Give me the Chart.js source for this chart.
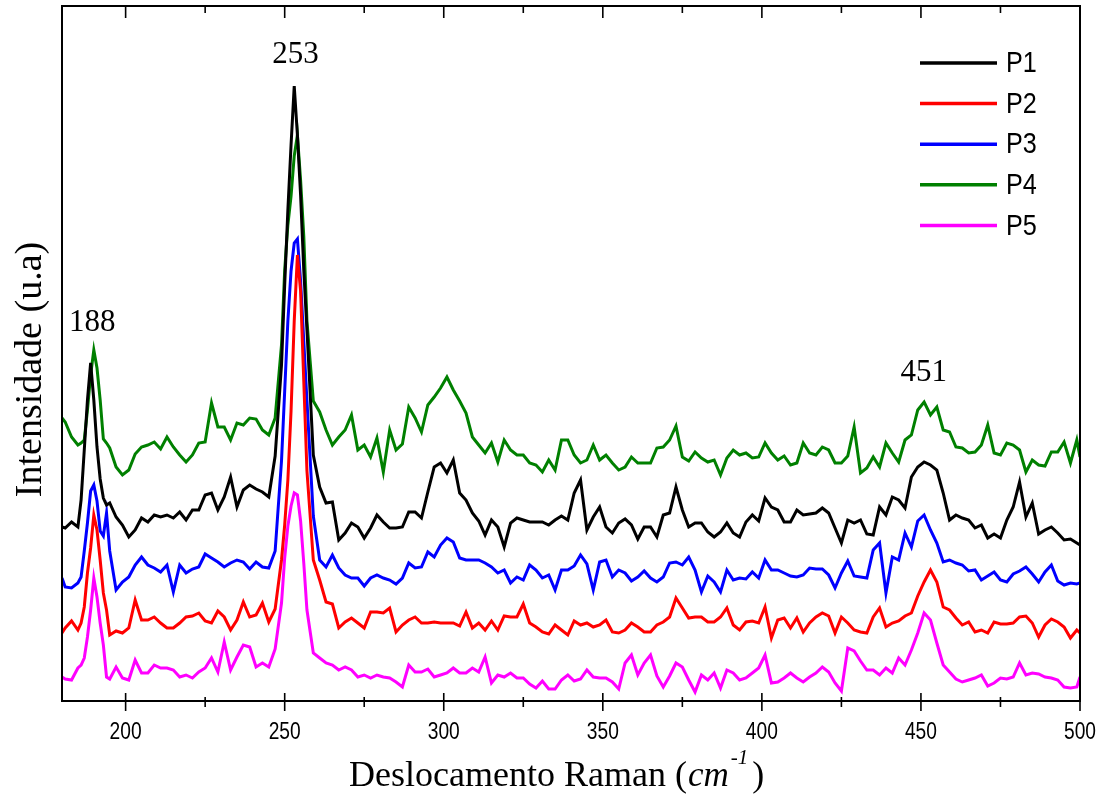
<!DOCTYPE html>
<html>
<head>
<meta charset="utf-8">
<title>Deslocamento Raman</title>
<script src="https://cdn.jsdelivr.net/npm/chart.js@4.4.1/dist/chart.umd.min.js"></script>
<style>
    html, body { margin: 0; padding: 0; background: #ffffff; }
    #wrap { width: 1112px; height: 805px; }
</style>
</head>
<body>
<div id="wrap"><canvas id="ramanChart" width="1112" height="805"></canvas></div>
<script>
/*==============================================================
    DATA
==============================================================*/
const seriesNames = ["P1", "P2", "P3", "P4", "P5"];
const seriesColors = ["#000000", "#ff0000", "#0000ff", "#008000", "#ff00ff"];

// Raman shift (cm-1)
const shifts = [
    180, 181, 183, 185, 186, 187, 188, 189, 190, 191,
    192, 193, 194, 195, 197, 199, 201, 203, 205, 207,
    209, 211, 213, 215, 217, 219, 221, 223, 225, 227,
    229, 231, 233, 235, 237, 239, 241, 243, 245, 247,
    249, 250, 251, 252, 253, 254, 255, 256, 257, 259,
    261, 263, 265, 267, 269, 271, 273, 275, 277, 279,
    281, 283, 285, 287, 289, 291, 293, 295, 297, 299,
    301, 303, 305, 307, 309, 311, 313, 315, 317, 319,
    321, 323, 325, 327, 329, 331, 333, 335, 337, 339,
    341, 343, 345, 347, 349, 351, 353, 355, 357, 359,
    361, 363, 365, 367, 369, 371, 373, 375, 377, 379,
    381, 383, 385, 387, 389, 391, 393, 395, 397, 399,
    401, 403, 405, 407, 409, 411, 413, 415, 417, 419,
    421, 423, 425, 427, 429, 431, 433, 435, 437, 439,
    441, 443, 445, 447, 449, 451, 453, 455, 457, 459,
    461, 463, 465, 467, 469, 471, 473, 475, 477, 479,
    481, 483, 485, 487, 489, 491, 493, 495, 497, 499,
    500
];

const p1 = [
    174, 173, 179, 174, 201, 251, 301, 338, 301, 254,
    222, 203, 196, 198, 184, 176, 164, 171, 183, 179,
    186, 184, 186, 183, 189, 181, 191, 191, 206, 208,
    191, 204, 224, 194, 211, 216, 212, 209, 204, 245,
    336, 416, 491, 556, 615, 566, 506, 431, 371, 246,
    214, 198, 199, 161, 168, 178, 174, 163, 173, 186,
    179, 173, 173, 174, 189, 189, 183, 209, 234, 238,
    228, 241, 208, 201, 188, 180, 166, 181, 174, 154,
    178, 183, 181, 179, 179, 179, 176, 181, 185, 181,
    208, 221, 171, 184, 194, 174, 168, 178, 182, 176,
    162, 174, 174, 164, 186, 188, 214, 191, 174, 178,
    178, 169, 164, 169, 178, 168, 164, 179, 186, 180,
    203, 194, 191, 179, 179, 191, 186, 187, 188, 193,
    188, 173, 158, 181, 178, 181, 167, 166, 194, 186,
    204, 201, 193, 224, 234, 239, 236, 231, 208, 181,
    186, 183, 181, 173, 176, 163, 167, 163, 181, 194,
    219, 184, 198, 167, 171, 174, 168, 161, 162, 158,
    156
];

const p2 = [
    68, 73, 80, 71, 78, 94, 128, 153, 186, 171,
    141, 108, 91, 66, 70, 68, 73, 101, 81, 81,
    84, 78, 73, 73, 78, 84, 85, 88, 80, 78,
    90, 84, 71, 81, 99, 84, 86, 98, 79, 92,
    141, 176, 221, 290, 380, 446, 410, 320, 230, 141,
    121, 99, 97, 73, 79, 83, 78, 73, 89, 89,
    88, 93, 69, 76, 81, 84, 78, 78, 79, 78,
    78, 78, 75, 89, 73, 78, 71, 80, 71, 85,
    84, 84, 97, 78, 74, 69, 67, 76, 71, 66,
    80, 76, 78, 74, 76, 81, 69, 68, 71, 78,
    74, 69, 69, 76, 79, 84, 103, 93, 83, 84,
    84, 79, 79, 84, 93, 76, 71, 79, 80, 78,
    94, 63, 81, 83, 73, 83, 69, 78, 84, 88,
    85, 68, 84, 78, 71, 69, 68, 84, 93, 74,
    78, 80, 85, 88, 105, 119, 131, 119, 94, 91,
    83, 76, 79, 69, 71, 68, 79, 77, 77, 78,
    84, 85, 78, 64, 76, 82, 79, 74, 63, 71,
    68
];

const p3 = [
    123, 114, 113, 118, 124, 150, 178, 210, 216, 200,
    170, 165, 188, 150, 111, 119, 124, 136, 144, 136,
    133, 129, 136, 109, 136, 128, 132, 134, 147, 143,
    139, 134, 138, 141, 139, 132, 139, 134, 133, 150,
    240, 310, 380, 430, 458, 462, 420, 360, 300, 185,
    141, 134, 146, 133, 126, 123, 123, 115, 123, 126,
    123, 121, 117, 123, 138, 133, 134, 149, 144, 156,
    163, 159, 143, 141, 141, 141, 138, 134, 128, 131,
    118, 124, 121, 136, 131, 123, 126, 111, 131, 131,
    135, 146, 137, 111, 139, 141, 124, 131, 128, 120,
    124, 130, 123, 119, 124, 138, 139, 136, 144, 131,
    109, 125, 119, 109, 131, 121, 123, 122, 129, 123,
    141, 131, 131, 128, 125, 124, 126, 133, 132, 132,
    126, 113, 128, 140, 125, 124, 123, 151, 158, 108,
    144, 141, 168, 154, 180, 186, 171, 158, 139, 141,
    138, 136, 130, 131, 121, 125, 129, 121, 119, 127,
    130, 134, 127, 119, 129, 136, 120, 116, 118, 117,
    118
];

const p4 = [
    283, 279, 264, 256, 258, 261, 291, 326, 351, 333,
    301, 262, 258, 253, 234, 226, 231, 247, 254, 256,
    259, 252, 264, 254, 246, 239, 246, 258, 259, 298,
    274, 274, 261, 278, 276, 283, 282, 271, 266, 283,
    356, 431, 476, 505, 545, 566, 521, 465, 380, 300,
    289, 271, 256, 264, 271, 286, 251, 256, 244, 263,
    229, 271, 251, 257, 294, 283, 269, 296, 304, 313,
    324, 311, 300, 288, 264, 256, 248, 258, 239, 261,
    251, 246, 246, 238, 236, 229, 241, 231, 261, 261,
    246, 238, 241, 256, 241, 246, 238, 231, 234, 244,
    238, 238, 238, 253, 254, 261, 275, 244, 240, 249,
    243, 239, 241, 226, 243, 251, 246, 248, 243, 244,
    258, 248, 241, 245, 236, 238, 258, 248, 246, 254,
    251, 238, 238, 245, 274, 228, 233, 244, 234, 258,
    248, 239, 261, 266, 291, 299, 286, 294, 271, 269,
    254, 253, 248, 249, 256, 276, 248, 246, 258, 256,
    251, 229, 241, 236, 235, 249, 249, 259, 238, 261,
    244
];

const p5 = [
    24, 22, 21, 33, 36, 43, 64, 91, 123, 104,
    78, 56, 24, 22, 34, 23, 21, 41, 28, 28,
    36, 33, 33, 31, 24, 26, 23, 29, 33, 43,
    29, 59, 31, 44, 56, 54, 34, 38, 34, 52,
    98, 143, 175, 195, 208, 206, 180, 138, 91, 48,
    43, 38, 36, 31, 34, 31, 24, 26, 23, 26,
    24, 23, 19, 14, 36, 29, 29, 32, 24, 26,
    28, 33, 28, 28, 33, 29, 44, 18, 26, 24,
    28, 23, 23, 17, 13, 20, 12, 12, 21, 26,
    20, 22, 31, 24, 23, 23, 19, 12, 38, 46,
    26, 38, 46, 25, 14, 25, 38, 34, 21, 9,
    26, 21, 28, 13, 31, 28, 21, 23, 28, 33,
    46, 18, 19, 23, 28, 23, 19, 24, 28, 34,
    29, 18, 10, 53, 50, 40, 31, 31, 26, 33,
    28, 43, 36, 51, 68, 88, 81, 58, 36, 29,
    22, 19, 21, 23, 26, 15, 18, 23, 22, 24,
    38, 26, 28, 27, 24, 23, 21, 14, 13, 14,
    24
];

const seriesValues = [p1, p2, p3, p4, p5];

// axis ticks
const majorTicks = [200, 250, 300, 350, 400, 450, 500];
const minorTicks = [225, 275, 325, 375, 425, 475];

// peak labels
const peakLabels = ["188", "253", "451"];
const peakX = [189.5, 253.4, 450.9];
const peakY = [378, 646, 328];

/*==============================================================
    FONTS
==============================================================*/
const SERIF = '"Liberation Serif", "Times New Roman", serif';
const SANS = '"Liberation Sans", Arial, sans-serif';

/*==============================================================
    HELPERS
==============================================================*/
function line(ctx, x1, y1, x2, y2) {
    ctx.beginPath();
    ctx.moveTo(x1, y1);
    ctx.lineTo(x2, y2);
    ctx.stroke();
}

// the source figure uses a condensed sans face, squeeze Liberation Sans
function narrowText(ctx, t, x, y, sx) {
    ctx.save();
    ctx.translate(x, y);
    ctx.scale(sx, 1);
    ctx.fillText(t, 0, 0);
    ctx.restore();
}

function drawXTitle(ctx, left, base) {
    const parts = [
        { t: "Deslocamento Raman (", f: "36px " + SERIF, dy: 0, gap: 1 },
        { t: "cm", f: "italic 35px " + SERIF, dy: 0, gap: 2 },
        { t: "-1", f: "italic 21px " + SERIF, dy: -22, gap: 4 },
        { t: ")", f: "36px " + SERIF, dy: 0, gap: 0 }
    ];
    let px = left;
    ctx.textAlign = "left";
    ctx.textBaseline = "alphabetic";
    parts.forEach(function (p) {
        ctx.font = p.f;
        ctx.fillText(p.t, px, base + p.dy);
        px += ctx.measureText(p.t).width + p.gap;
    });
}

/*==============================================================
    FRAME, TICKS, TITLES, LEGEND
==============================================================*/
const framePlugin = {
    id: "framePlugin",
    afterDraw(chart) {
        const ctx = chart.ctx;
        const a = chart.chartArea;
        const xs = chart.scales.x;
        const ys = chart.scales.y;
        ctx.save();
        ctx.strokeStyle = "#000000";
        ctx.fillStyle = "#000000";

        // box
        ctx.lineWidth = 2;
        ctx.strokeRect(a.left, a.top, a.right - a.left, a.bottom - a.top);

        // ticks
        ctx.lineWidth = 1.6;
        majorTicks.forEach(function (v) {
            const px = xs.getPixelForValue(v);
            line(ctx, px, a.bottom - 8, px, a.bottom + 10);
            line(ctx, px, a.top, px, a.top + 12);
        });
        minorTicks.forEach(function (v) {
            const px = xs.getPixelForValue(v);
            line(ctx, px, a.bottom - 4, px, a.bottom + 6);
            line(ctx, px, a.top, px, a.top + 7);
        });

        // tick labels
        ctx.font = "24px " + SANS;
        ctx.textAlign = "center";
        ctx.textBaseline = "middle";
        majorTicks.forEach(function (v) {
            narrowText(ctx, String(v), xs.getPixelForValue(v), a.bottom + 31, 0.8);
        });

        // axis titles
        drawXTitle(ctx, a.left + 287, a.bottom + 85);

        ctx.save();
        ctx.translate(41, (a.top + a.bottom) / 2 + 16);
        ctx.rotate(-Math.PI / 2);
        ctx.font = "38px " + SERIF;
        ctx.textAlign = "center";
        ctx.textBaseline = "alphabetic";
        ctx.fillText("Intensidade (u.a)", 0, 0);
        ctx.restore();

        // peak labels
        ctx.font = "31px " + SERIF;
        ctx.textAlign = "center";
        ctx.textBaseline = "middle";
        peakLabels.forEach(function (t, i) {
            ctx.fillText(t, xs.getPixelForValue(peakX[i]), ys.getPixelForValue(peakY[i]));
        });

        // legend
        const lx = a.right - 160;
        const ly = a.top + 57;
        ctx.font = "30px " + SANS;
        ctx.textAlign = "left";
        ctx.textBaseline = "middle";
        ctx.lineWidth = 3.5;
        seriesNames.forEach(function (name, i) {
            const yy = ly + i * 40.6;
            ctx.strokeStyle = seriesColors[i];
            line(ctx, lx, yy, lx + 77, yy);
            ctx.fillStyle = "#000000";
            narrowText(ctx, name, lx + 86, yy + 1, 0.84);
        });
        ctx.restore();
    }
};

/*==============================================================
    CHART
==============================================================*/
function ramanChart() {
    const ctx = document.getElementById("ramanChart");
    if (!ctx) return;
    new Chart(ctx, {
        type: "line",
        data: {
            datasets: seriesNames.map(function (name, i) {
                return {
                    label: name,
                    data: shifts.map(function (s, j) {
                        return { x: s, y: seriesValues[i][j] };
                    }),
                    borderColor: seriesColors[i],
                    backgroundColor: seriesColors[i],
                    borderWidth: 3,
                    pointRadius: 0,
                    tension: 0,
                    fill: false
                };
            })
        },
        options: {
            responsive: false,
            animation: false,
            layout: {
                padding: { left: 62, right: 32, top: 6, bottom: 104 }
            },
            plugins: {
                legend: { display: false },
                tooltip: { enabled: false }
            },
            scales: {
                x: {
                    type: "linear",
                    display: false,
                    min: 180,
                    max: 500
                },
                y: {
                    display: false,
                    min: 0,
                    max: 695
                }
            }
        },
        plugins: [framePlugin]
    });
}

ramanChart();
</script>
</body>
</html>
